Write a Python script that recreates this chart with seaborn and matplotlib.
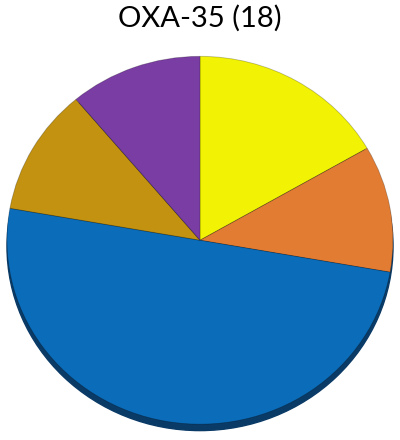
import matplotlib
matplotlib.use("Agg")
import matplotlib.pyplot as plt
import seaborn as sns
from matplotlib.patches import Ellipse

sns.set_theme(style="white")
plt.rcParams['font.family'] = ['Lato', 'DejaVu Sans']

title = "OXA-35 (18)"
categories = ["A", "B", "C", "D", "E"]
values = [3, 2, 9, 2, 2]
colors = ["#F2F205", "#E37C33", "#0B6DBA", "#C29210", "#7A3DA3"]

fig = plt.figure(figsize=(4, 4.4), dpi=100)
ax = fig.add_axes([0.0175, 0.036, 0.965, 0.836])

# depth/shadow under the pie
ax.add_patch(Ellipse((0, -0.035), 2.0, 2.0, color="#0A3A66", zorder=0, clip_on=False))

wedges, _ = ax.pie(values, colors=colors, startangle=90, counterclock=False,
                   radius=1.0, wedgeprops=dict(edgecolor=(0, 0, 0, 0.25), linewidth=0.6))
for w in wedges:
    w.set_zorder(2)
    w.set_clip_on(False)
ax.set_aspect('auto')
ax.set_xlim(-1, 1)
ax.set_ylim(-1.0, 1.0)
ax.axis('off')

fig.text(0.5, 0.958, title, ha='center', va='center', fontsize=21, color='black')

fig.savefig("out.png", dpi=100)
